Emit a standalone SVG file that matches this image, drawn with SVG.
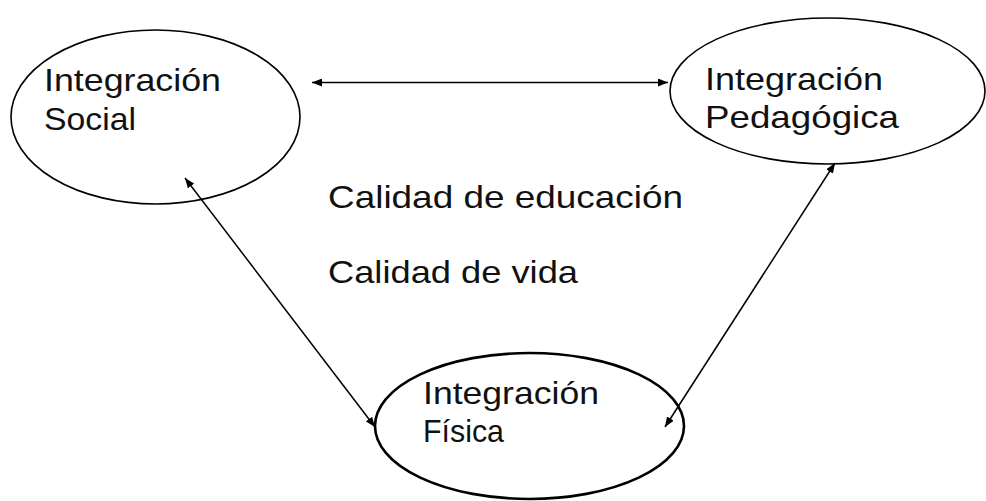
<svg xmlns="http://www.w3.org/2000/svg" width="986" height="501" viewBox="0 0 986 501">
<style>
.node{fill:none;stroke:#000;stroke-width:1.6}
.thick{stroke-width:2.6}
.lbl{font-family:"Liberation Sans",Arial,sans-serif;font-size:32px;fill:#111}
.conn{stroke:#000;stroke-width:1.5;fill:none;marker-start:url(#ah);marker-end:url(#ah)}
</style>
<defs>
<marker id="ah" viewBox="0 0 10 8" refX="10" refY="4" markerWidth="10" markerHeight="8" markerUnits="userSpaceOnUse" orient="auto-start-reverse">
<path d="M0,0 L10,4 L0,8 Z" fill="#000"/>
</marker>
</defs>
<rect width="986" height="501" fill="#fff"/>
<g id="connectors">
<line class="conn" x1="312" y1="82.5" x2="668" y2="82.5"/>
<line class="conn" x1="185" y1="178" x2="375" y2="427"/>
<line class="conn" x1="835" y1="163" x2="665" y2="427"/>
</g>
<g id="social">
<ellipse class="node" cx="155.5" cy="117" rx="144.5" ry="87"/>
<text class="lbl" x="44" y="91" textLength="177" lengthAdjust="spacingAndGlyphs">Integración</text>
<text class="lbl" x="44" y="130" textLength="92" lengthAdjust="spacingAndGlyphs">Social</text>
</g>
<g id="pedagogica">
<ellipse class="node" cx="827.5" cy="91" rx="157.5" ry="73"/>
<text class="lbl" x="705" y="90" textLength="178" lengthAdjust="spacingAndGlyphs">Integración</text>
<text class="lbl" x="705" y="128" textLength="194" lengthAdjust="spacingAndGlyphs">Pedagógica</text>
</g>
<g id="fisica">
<ellipse class="node thick" cx="529.5" cy="426" rx="154.5" ry="73"/>
<text class="lbl" x="423" y="404" textLength="176" lengthAdjust="spacingAndGlyphs">Integración</text>
<text class="lbl" x="423" y="442" textLength="81" lengthAdjust="spacingAndGlyphs">Física</text>
</g>
<g id="center-text">
<text class="lbl" x="328" y="208" textLength="355" lengthAdjust="spacingAndGlyphs">Calidad de educación</text>
<text class="lbl" x="328" y="283" textLength="250" lengthAdjust="spacingAndGlyphs">Calidad de vida</text>
</g>
</svg>
